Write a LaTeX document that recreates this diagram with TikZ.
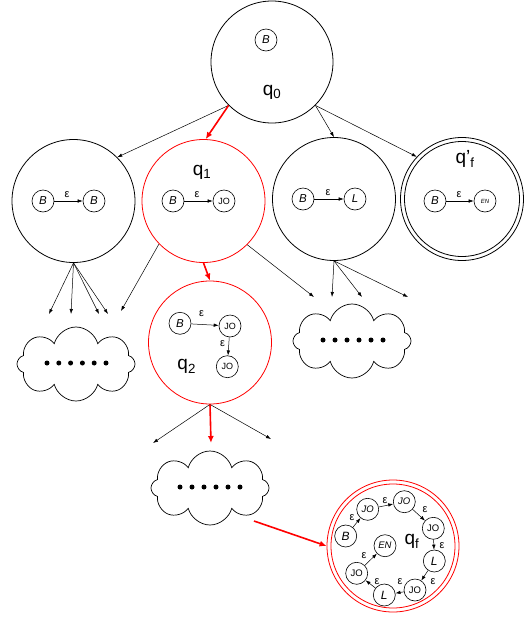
\documentclass[tikz,border=0pt]{standalone}
\usepackage{fontspec}
\setmainfont{Liberation Sans}
\usetikzlibrary{arrows.meta,shapes.symbols}
\begin{document}
\begin{tikzpicture}[x=1pt,y=-1pt,
  big/.style={circle,draw,line width=0.8pt,minimum size=123pt,inner sep=0pt},
  st/.style={circle,draw,line width=0.6pt,minimum size=22pt,inner sep=0pt,font=\fontsize{11.5}{12}\selectfont\itshape},
  stjo/.style={st,font=\fontsize{9}{9}\selectfont},
  stjoi/.style={st,font=\fontsize{9.5}{9.5}\selectfont\itshape},
  sten/.style={st,font=\fontsize{6}{6}\selectfont\itshape},
  eps/.style={font=\fontsize{11}{11}\selectfont,inner sep=0pt},
  qlab/.style={font=\fontsize{19}{19}\selectfont,inner sep=0pt},
  arr/.style={-{Latex[length=5pt,width=3.5pt]},line width=0.5pt},
  redarr/.style={-{Latex[length=7pt,width=6pt]},line width=1.6pt,draw=red},
  cloudbox/.style={cloud,draw,cloud puffs=8,cloud puff arc=150,cloud ignores aspect,shape border rotate=0,line width=0.7pt,minimum width=118pt,minimum height=74pt}
]
\useasboundingbox (0,0) rectangle (524,619);

% ---- level 0
\node[big,minimum size=122pt] (q0) at (272,62) {};
\node[st] (q0b) at (266,40) {B};
\node[qlab] (q0l) at (272,92) {q\textsubscript{0}};

% ---- level 1
\node[big] (c1) at (73.5,201) {};
\node[st] (c1a) at (43,201) {B};
\node[st] (c1b) at (94,201) {B};
\draw[arr] (c1a) -- (c1b);
\node[eps] (c1e) at (67,195) {ε};

\node[big,draw=red] (q1) at (203.5,201) {};
\node[st] (q1a) at (173,201) {B};
\node[stjo] (q1b) at (224,201) {JO};
\draw[arr] (q1a) -- (q1b);
\node[eps] (q1e) at (197,195) {ε};
\node[qlab] (q1l) at (202,172) {q\textsubscript{1}};

\node[big] (c3) at (334,199) {};
\node[st] (c3a) at (303,199) {B};
\node[st] (c3b) at (355,199) {L};
\draw[arr] (c3a) -- (c3b);
\node[eps] (c3e) at (328,193) {ε};

\node[big,minimum size=123pt] (c4) at (462,199) {};
\node[circle,draw,line width=0.8pt,minimum size=115pt,inner sep=0pt] (c4i) at (462,199) {};
\node[st] (c4a) at (435,201) {B};
\node[sten] (c4b) at (485,201) {EN};
\draw[arr] (c4a) -- (c4b);
\node[eps] (c4e) at (459,195) {ε};
\node[qlab] (c4l) at (465,159) {q\textquoteright\textsubscript{f}};

% ---- arrows from q0
\draw[arr] (q0.-135) -- (c1.45);
\draw[arr] (q0.-45) -- (c3.north);
\draw[arr] (q0.-45) -- (c4.137);
\draw[redarr] (q0.-135) -- (q1.88);

% ---- level 2
\node[big,draw=red] (q2) at (210,342.5) {};
\node[st] (q2a) at (180,323.3) {B};
\node[stjo] (q2b) at (230,326) {JO};
\node[stjo] (q2c) at (227.3,366.7) {JO};
\draw[arr] (q2a) -- (q2b);
\draw[arr] (q2b) -- (q2c);
\node[eps] (q2e1) at (201.7,313.3) {ε};
\node[eps] (q2e2) at (222.7,344) {ε};
\node[qlab] (q2l) at (186.7,366.7) {q\textsubscript{2}};

% free ends
\coordinate (e1) at (49,314);
\coordinate (e2) at (71,314);
\coordinate (e3) at (99,314);
\coordinate (e4) at (108,314);
\coordinate (e5) at (121,311);
\coordinate (e6) at (314,297);
\coordinate (e7) at (332,297);
\coordinate (e8) at (362,297);
\coordinate (e9) at (408,297);
\coordinate (f1) at (153,443);
\coordinate (f2) at (211,443);
\coordinate (f3) at (271,439);
\coordinate (g1) at (254,521);

\foreach \e in {e1,e2,e3,e4} \draw[arr] (c1.south) -- (\e);
\draw[arr] (q1.-136) -- (e5);
\draw[arr] (q1.-45) -- (e6);
\foreach \e in {e7,e8,e9} \draw[arr] (c3.south) -- (\e);
\draw[redarr] (q1.south) -- (q2.north);
\draw[arr] (q2.south) -- (f1);
\draw[arr] (q2.south) -- (f3);
\draw[redarr] (q2.south) -- (f2);

% ---- clouds
\node[cloudbox] (cl1) at (76,364) {};
\node[cloudbox] (cl2) at (352,341) {};
\node[cloudbox] (cl3) at (210,488) {};
\foreach \i in {0,...,5} {
  \fill (47+11.8*\i,363) circle (2.5pt);
  \fill (323+12*\i,340) circle (2.5pt);
  \fill (180+12*\i,487) circle (2.5pt);
}

% ---- final state
\node[circle,draw=red,line width=0.8pt,minimum size=132pt,inner sep=0pt] (qf) at (393,546) {};
\node[circle,draw=red,line width=0.8pt,minimum size=124pt,inner sep=0pt] (qfi) at (393,546) {};
\node[st,font=\fontsize{12}{12}\selectfont\itshape] (n1) at (345.7,536) {B};
\node[stjoi] (n2) at (367.7,509.3) {JO};
\node[stjoi] (n3) at (404.3,501.7) {JO};
\node[stjo,font=\fontsize{9.5}{9.5}\selectfont] (n4) at (433.3,528.3) {JO};
\node[st,font=\fontsize{12}{12}\selectfont\itshape] (n5) at (434.3,561) {L};
\node[stjo,font=\fontsize{9.5}{9.5}\selectfont] (n6) at (415,590) {JO};
\node[st,font=\fontsize{12}{12}\selectfont\itshape] (n7) at (384.3,595) {L};
\node[stjo,font=\fontsize{9.5}{9.5}\selectfont] (n8) at (356.7,573.3) {JO};
\node[stjoi] (n9) at (385,545.7) {EN};
\node[qlab] (qfl) at (412,541.7) {q\textsubscript{f}};
\draw[arr] (n1) -- (n2);
\draw[arr] (n2) -- (n3);
\draw[arr] (n3) -- (n4);
\draw[arr] (n4) -- (n5);
\draw[arr] (n5) -- (n6);
\draw[arr] (n6) -- (n7);
\draw[arr] (n7) -- (n8);
\draw[arr] (n8) -- (n9);
\node[eps] at (352,518) {ε};
\node[eps] at (385,501) {ε};
\node[eps] at (425,510) {ε};
\node[eps] at (442,546) {ε};
\node[eps] at (433,582) {ε};
\node[eps] at (400,582) {ε};
\node[eps] at (377,582) {ε};
\node[eps] at (364,556) {ε};

\draw[redarr] (g1) -- (qf.west);
\end{tikzpicture}
\end{document}
